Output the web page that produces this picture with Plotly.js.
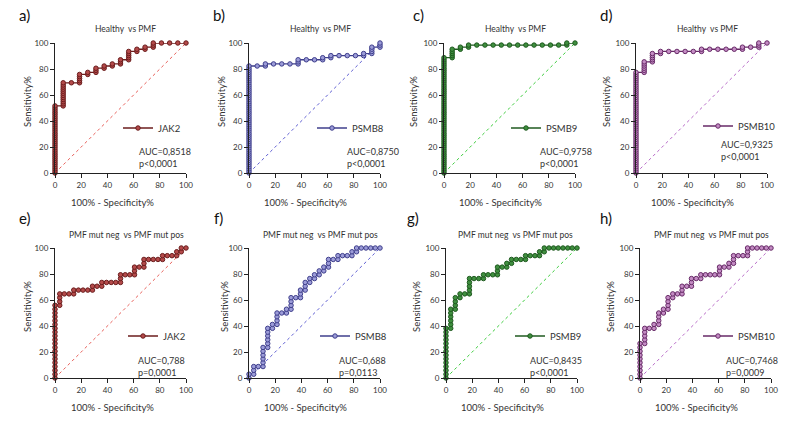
<!DOCTYPE html>
<html>
<head>
<meta charset="utf-8">
<script src="https://cdn.plot.ly/plotly-3.0.1.min.js"></script>
<style>
  html, body { margin: 0; padding: 0; background: #fff; }
  #chart { width: 798px; height: 425px; }
</style>
</head>
<body>
<div id="chart"></div>
<script>
// ROC data: one list of y values (sensitivity %) per x column (100% - specificity %)
const healthyCols = [0, 6.25, 12.5, 18.75, 25, 31.25, 37.5, 43.75, 50, 56.25, 62.5, 68.75, 75, 81.25, 87.5, 93.75, 100];
const mutCols = [0, 3.6, 7.1, 10.7, 14.3, 17.9, 21.4, 25, 28.6, 32.1, 35.7, 39.3, 42.9, 46.4, 50, 53.6, 57.1, 60.7, 64.3, 67.9, 71.4, 75, 78.6, 82.1, 85.7, 89.3, 92.9, 96.4, 100];

const genes = ['JAK2', 'PSMB8', 'PSMB9', 'PSMB10'];
const aucHealthy = ['AUC=0,8518', 'AUC=0,8750', 'AUC=0,9758', 'AUC=0,9325'];
const pHealthy = ['p<0,0001', 'p<0,0001', 'p<0,0001', 'p<0,0001'];
const aucMut = ['AUC=0,788', 'AUC=0,688', 'AUC=0,8435', 'AUC=0,7468'];
const pMut = ['p=0,0001', 'p=0,0113', 'p<0,0001', 'p=0,0009'];
const panelLabels = ['a)', 'b)', 'c)', 'd)', 'e)', 'f)', 'g)', 'h)'];

const jak2Healthy = [
    [0, 1.6, 3.2, 4.8, 6.5, 8.1, 9.7, 11.3, 12.9, 14.5, 16.1, 17.7, 19.4, 21, 22.6, 24.2, 25.8, 27.4, 29, 30.6, 32.3, 33.9, 35.5, 37.1, 38.7, 40.3, 41.9, 43.5, 45.2, 46.8, 48.4, 50, 51.6],
    [51.6, 53.2, 54.8, 56.5, 58.1, 59.7, 61.3, 62.9, 64.5, 66.1, 67.7, 69.4],
    [69.4],
    [69.4, 71, 72.6, 74.2, 75.8],
    [75.8, 77.4],
    [77.4, 79, 80.6],
    [80.6, 82.3],
    [82.3, 83.9],
    [83.9, 85.5, 87.1],
    [87.1, 88.7, 90.3, 91.9, 93.5],
    [93.5, 95.2],
    [95.2, 96.8],
    [96.8, 98.4, 100],
    [100], [100], [100], [100]
];
const psmb8Healthy = [
    [0, 1.6, 3.2, 4.8, 6.5, 8.1, 9.7, 11.3, 12.9, 14.5, 16.1, 17.7, 19.4, 21, 22.6, 24.2, 25.8, 27.4, 29, 30.6, 32.3, 33.9, 35.5, 37.1, 38.7, 40.3, 41.9, 43.5, 45.2, 46.8, 48.4, 50, 51.6, 53.2, 54.8, 56.5, 58.1, 59.7, 61.3, 62.9, 64.5, 66.1, 67.7, 69.4, 71, 72.6, 74.2, 75.8, 77.4, 79, 80.6, 82.3],
    [82.3],
    [82.3, 83.9],
    [83.9], [83.9], [83.9],
    [83.9, 85.5, 87.1],
    [87.1], [87.1],
    [87.1, 88.7],
    [88.7, 90.3],
    [90.3], [90.3], [90.3],
    [90.3, 91.9],
    [91.9, 93.5, 95.2, 96.8],
    [96.8, 98.4, 100]
];
const psmb9Healthy = [
    [0, 1.6, 3.2, 4.8, 6.5, 8.1, 9.7, 11.3, 12.9, 14.5, 16.1, 17.7, 19.4, 21, 22.6, 24.2, 25.8, 27.4, 29, 30.6, 32.3, 33.9, 35.5, 37.1, 38.7, 40.3, 41.9, 43.5, 45.2, 46.8, 48.4, 50, 51.6, 53.2, 54.8, 56.5, 58.1, 59.7, 61.3, 62.9, 64.5, 66.1, 67.7, 69.4, 71, 72.6, 74.2, 75.8, 77.4, 79, 80.6, 82.3, 83.9, 85.5, 87.1, 88.7],
    [88.7, 90.3, 91.9, 93.5, 95.2],
    [95.2, 96.8],
    [96.8, 98.4],
    [98.4], [98.4], [98.4], [98.4], [98.4], [98.4], [98.4], [98.4], [98.4], [98.4], [98.4],
    [98.4, 100],
    [100]
];
const psmb10Healthy = [
    [0, 1.6, 3.2, 4.8, 6.5, 8.1, 9.7, 11.3, 12.9, 14.5, 16.1, 17.7, 19.4, 21, 22.6, 24.2, 25.8, 27.4, 29, 30.6, 32.3, 33.9, 35.5, 37.1, 38.7, 40.3, 41.9, 43.5, 45.2, 46.8, 48.4, 50, 51.6, 53.2, 54.8, 56.5, 58.1, 59.7, 61.3, 62.9, 64.5, 66.1, 67.7, 69.4, 71, 72.6, 74.2, 75.8, 77.4],
    [77.4, 79, 80.6, 82.3, 83.9, 85.5],
    [85.5, 87.1, 88.7, 90.3, 91.9],
    [91.9, 93.5],
    [93.5], [93.5], [93.5], [93.5],
    [93.5, 95.2],
    [95.2], [95.2], [95.2], [95.2],
    [95.2, 96.8],
    [96.8],
    [96.8, 98.4, 100],
    [100]
];

const jak2Mut = [
    [0, 2.9, 5.9, 8.8, 11.8, 14.7, 17.6, 20.6, 23.5, 26.5, 29.4, 32.4, 35.3, 38.2, 41.2, 44.1, 47.1, 50, 52.9, 55.9],
    [55.9, 58.8, 61.8, 64.7],
    [64.7], [64.7],
    [64.7, 67.6],
    [67.6], [67.6], [67.6],
    [67.6, 70.6],
    [70.6],
    [70.6, 73.5],
    [73.5], [73.5], [73.5],
    [73.5, 76.5, 79.4],
    [79.4], [79.4],
    [79.4, 82.4, 85.3],
    [85.3],
    [85.3, 88.2, 91.2],
    [91.2], [91.2], [91.2],
    [91.2, 94.1],
    [94.1], [94.1],
    [94.1, 97.1],
    [97.1, 100],
    [100]
];
const psmb8Mut = [
    [0, 2.9],
    [2.9, 5.9, 8.8],
    [8.8],
    [8.8, 11.8, 14.7, 17.6, 20.6, 23.5],
    [23.5, 26.5, 29.4, 32.4, 35.3, 38.2],
    [38.2, 41.2],
    [41.2, 44.1, 47.1, 50],
    [50],
    [50, 52.9],
    [52.9, 55.9, 58.8, 61.8],
    [61.8],
    [61.8, 64.7, 67.6],
    [67.6, 70.6, 73.5],
    [73.5, 76.5],
    [76.5, 79.4],
    [79.4, 82.4],
    [82.4, 85.3],
    [85.3, 88.2, 91.2],
    [91.2],
    [91.2, 94.1],
    [94.1], [94.1],
    [94.1, 97.1],
    [97.1, 100],
    [100], [100], [100], [100], [100]
];
const psmb9Mut = [
    [0, 2.9, 5.9, 8.8, 11.8, 14.7, 17.6, 20.6, 23.5, 26.5, 29.4, 32.4, 35.3, 38.2],
    [38.2, 41.2, 44.1, 47.1, 50, 52.9],
    [52.9, 55.9, 58.8, 61.8],
    [61.8, 64.7],
    [64.7],
    [64.7, 67.6, 70.6, 73.5, 76.5],
    [76.5], [76.5],
    [76.5, 79.4],
    [79.4], [79.4],
    [79.4, 82.4, 85.3],
    [85.3],
    [85.3, 88.2],
    [88.2, 91.2],
    [91.2], [91.2],
    [91.2, 94.1],
    [94.1], [94.1],
    [94.1, 97.1],
    [97.1, 100],
    [100], [100], [100], [100], [100], [100], [100]
];
const psmb10Mut = [
    [0, 2.9, 5.9, 8.8, 11.8, 14.7, 17.6, 20.6, 23.5, 26.5],
    [26.5, 29.4, 32.4, 35.3, 38.2],
    [38.2],
    [38.2, 41.2],
    [41.2, 44.1, 47.1, 50],
    [50, 52.9],
    [52.9, 55.9, 58.8, 61.8],
    [61.8, 64.7],
    [64.7],
    [64.7, 67.6, 70.6],
    [70.6],
    [70.6, 73.5, 76.5],
    [76.5],
    [76.5, 79.4],
    [79.4], [79.4], [79.4],
    [79.4, 82.4, 85.3],
    [85.3],
    [85.3, 88.2],
    [88.2, 91.2, 94.1],
    [94.1], [94.1],
    [94.1, 97.1, 100],
    [100], [100], [100], [100], [100]
];

const FONT = 'Lato, "Open Sans", sans-serif';
const W = 798, H = 425;

// colours per gene: curve, marker fill, reference diagonal
const lineColors = ['#6b1d1d', '#3f3f8c', '#1f5a1f', '#672a67'];
const fillColors = ['#b44a4a', '#9c9cd8', '#3f8f3f', '#c48cc4'];
const diagColors = ['#e8605a', '#5d5dd2', '#3ccc3c', '#b86ac8'];

// layout of each panel in pixels
const panels = [
    { x0: 55, x1: 186, top: 43, bot: 173, lab: [24, 15], tit: [125, 29], ytx: 27, xtx: 112, xty: 202, leg: [158, 128], auc: [137, 157] },
    { x0: 249, x1: 380, top: 43, bot: 173, lab: [219, 15], tit: [320, 29], ytx: 221, xtx: 305, xty: 202, leg: [352, 128], auc: [345, 157] },
    { x0: 444, x1: 575, top: 43, bot: 173, lab: [418, 15], tit: [515, 29], ytx: 413, xtx: 500, xty: 202, leg: [546, 128], auc: [538, 157] },
    { x0: 636, x1: 767, top: 43, bot: 173, lab: [606, 15], tit: [707, 29], ytx: 606, xtx: 692, xty: 202, leg: [738, 126], auc: [719, 151] },
    { x0: 55, x1: 186, top: 248, bot: 378, lab: [25, 218], tit: [126, 235], ytx: 27, xtx: 112, xty: 407, leg: [163, 336], auc: [136, 366] },
    { x0: 249, x1: 380, top: 248, bot: 378, lab: [218, 218], tit: [320, 235], ytx: 224, xtx: 305, xty: 407, leg: [355, 336], auc: [337, 366] },
    { x0: 446, x1: 577, top: 248, bot: 378, lab: [413, 218], tit: [515, 235], ytx: 416, xtx: 502, xty: 407, leg: [550, 336], auc: [528, 366] },
    { x0: 640, x1: 771, top: 248, bot: 378, lab: [606, 218], tit: [711, 235], ytx: 610, xtx: 696, xty: 407, leg: [738, 336], auc: [724, 366] }
];

const curves = [jak2Healthy, psmb8Healthy, psmb9Healthy, psmb10Healthy, jak2Mut, psmb8Mut, psmb9Mut, psmb10Mut];

function px(p) { return p / W; }
function py(p) { return 1 - p / H; }

function stairs(cols, ys) {
    const x = [], y = [];
    cols.forEach(function (xv, i) {
        ys[i].forEach(function (yv) {
            x.push(xv);
            y.push(yv);
        });
    });
    return { x, y };
}

const data = [];
const layout = {
    width: W,
    height: H,
    margin: { l: 0, r: 0, t: 0, b: 0 },
    paper_bgcolor: '#fff',
    plot_bgcolor: 'rgba(0,0,0,0)',
    font: { family: FONT, color: '#333' },
    annotations: [],
    showlegend: true
};

panels.forEach(function (p, i) {
    const g = i % 4;
    const n = i + 1;
    const xa = n === 1 ? 'x' : 'x' + n;
    const ya = n === 1 ? 'y' : 'y' + n;
    const legId = n === 1 ? 'legend' : 'legend' + n;
    const pts = stairs(i < 4 ? healthyCols : mutCols, curves[i]);

    data.push({
        x: [0, 100], y: [0, 100],
        xaxis: xa, yaxis: ya,
        mode: 'lines',
        line: { color: diagColors[g], width: 1, dash: 'dot' },
        showlegend: false,
        hoverinfo: 'skip'
    });
    data.push({
        x: pts.x, y: pts.y,
        xaxis: xa, yaxis: ya,
        name: genes[g],
        legend: legId,
        mode: 'lines+markers',
        line: { color: lineColors[g], width: 1.3 },
        marker: { symbol: 'circle', size: 4.5, color: fillColors[g], line: { color: lineColors[g], width: 1 } },
        cliponaxis: false
    });

    const axisBase = {
        range: [0, 100],
        showgrid: false,
        zeroline: false,
        showline: true,
        linecolor: '#222',
        linewidth: 1,
        ticks: 'outside',
        ticklen: 4,
        tickwidth: 1,
        tickcolor: '#222',
        tickvals: [0, 20, 40, 60, 80, 100],
        tickfont: { family: FONT, size: 8, color: '#333' },
        fixedrange: true
    };
    layout['xaxis' + (n === 1 ? '' : n)] = Object.assign({}, axisBase, {
        domain: [px(p.x0), px(p.x1)],
        anchor: ya
    });
    layout['yaxis' + (n === 1 ? '' : n)] = Object.assign({}, axisBase, {
        domain: [py(p.bot), py(p.top)],
        anchor: xa
    });

    layout[legId] = {
        x: px(p.leg[0] - 40),
        y: py(p.leg[1]),
        xanchor: 'left',
        yanchor: 'middle',
        bgcolor: 'rgba(0,0,0,0)',
        borderwidth: 0,
        itemwidth: 30,
        font: { family: FONT, size: 9.5, color: '#333' }
    };

    const ann = layout.annotations;
    ann.push({
        text: panelLabels[i], x: px(p.lab[0]), y: py(p.lab[1]),
        xref: 'paper', yref: 'paper', showarrow: false,
        xanchor: 'center', yanchor: 'middle',
        font: { family: FONT, size: 15, color: '#111' }
    });
    ann.push({
        text: i < 4 ? 'Healthy  vs PMF' : 'PMF mut neg  vs PMF mut pos',
        x: px(p.tit[0]), y: py(p.tit[1]),
        xref: 'paper', yref: 'paper', showarrow: false,
        xanchor: 'center', yanchor: 'middle',
        font: { family: FONT, size: 8.5, color: '#333' }
    });
    ann.push({
        text: '100% - Specificity%', x: px(p.xtx), y: py(p.xty),
        xref: 'paper', yref: 'paper', showarrow: false,
        xanchor: 'center', yanchor: 'middle',
        font: { family: FONT, size: 9.5, color: '#333' }
    });
    ann.push({
        text: 'Sensitivity%', x: px(p.ytx), y: py((p.top + p.bot) / 2 - 6),
        xref: 'paper', yref: 'paper', showarrow: false, textangle: -90,
        xanchor: 'center', yanchor: 'middle',
        font: { family: FONT, size: 9.5, color: '#333' }
    });
    ann.push({
        text: (i < 4 ? aucHealthy[g] : aucMut[i - 4]) + '<br>' + (i < 4 ? pHealthy[g] : pMut[i - 4]),
        x: px(p.auc[0]), y: py(p.auc[1]),
        xref: 'paper', yref: 'paper', showarrow: false,
        xanchor: 'left', yanchor: 'middle', align: 'left',
        font: { family: FONT, size: 9, color: '#333' }
    });
});

Plotly.newPlot('chart', data, layout, { displayModeBar: false, staticPlot: true });
</script>
</body>
</html>
